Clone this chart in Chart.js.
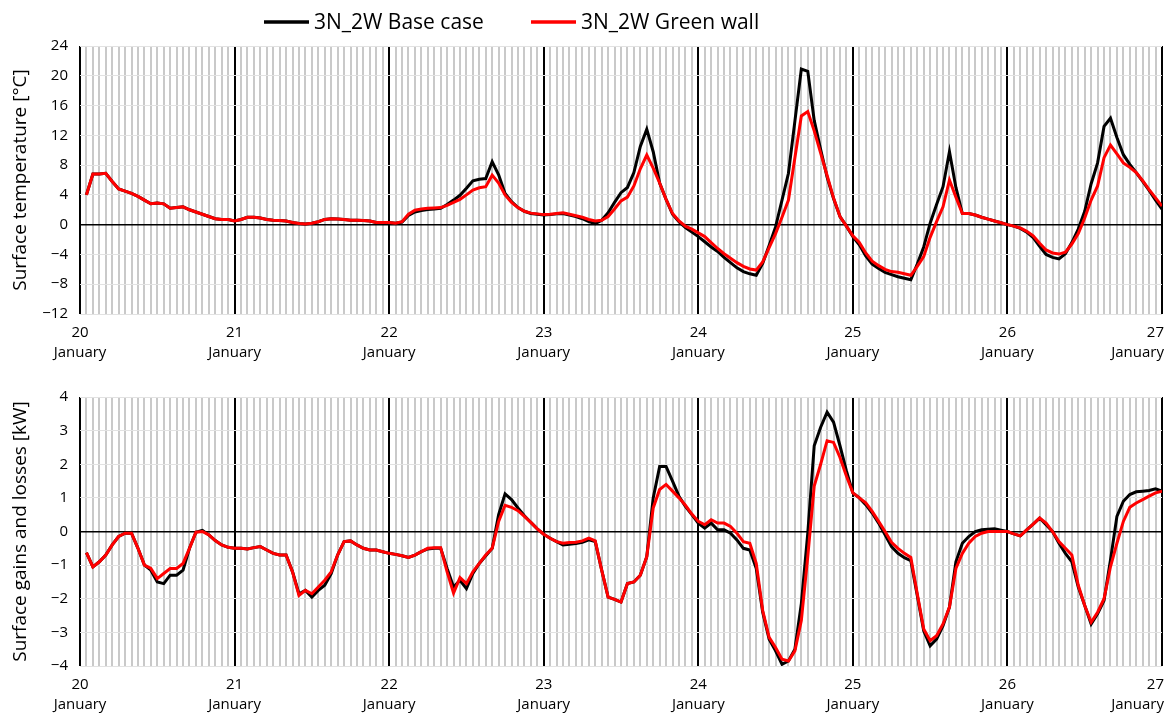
<!DOCTYPE html>
<html>
<head>
<meta charset="utf-8">
<title>3N_2W surface temperature and surface gains/losses, 20–27 January</title>
<script src="https://cdn.jsdelivr.net/npm/chart.js@4.4.1/dist/chart.umd.min.js"></script>
<style>
  html, body { margin: 0; padding: 0; background: #ffffff; }
  #wrap { position: relative; width: 1167px; height: 717px; overflow: hidden; }
  .panel { position: absolute; left: 0; width: 1167px; }
  #p1 { top: 0; height: 375px; }
  #p2 { top: 375px; height: 342px; }
</style>
</head>
<body>
<div id="wrap">
  <div class="panel" id="p1"><canvas id="c1"></canvas></div>
  <div class="panel" id="p2"><canvas id="c2"></canvas></div>
</div>
<script>
// Hourly time steps (hours after 20 January 00:00)
const hours = Array.from({ length: 168 }, (_, i) => i + 1);

// Day tick labels (one per 24 h)
const dayLabels = ['20', '21', '22', '23', '24', '25', '26', '27'];
const monthLabel = 'January';

const seriesNames = ['3N_2W Base case', '3N_2W Green wall'];

// Surface temperature [°C], one row per day
const tempBase = [
  4.0, 6.8, 6.8, 6.9, 5.8, 4.8, 4.5, 4.2, 3.8, 3.3, 2.8, 2.9, 2.8, 2.2, 2.3, 2.4, 2.0, 1.7, 1.4, 1.1, 0.8, 0.7, 0.7, 0.5,
  0.7, 1.0, 1.0, 0.9, 0.7, 0.6, 0.55, 0.5, 0.3, 0.15, 0.1, 0.2, 0.4, 0.7, 0.8, 0.75, 0.7, 0.6, 0.6, 0.55, 0.5, 0.3, 0.3, 0.3,
  0.2, 0.35, 1.25, 1.7, 1.9, 2.05, 2.1, 2.2, 2.7, 3.3, 3.95, 4.9, 5.9, 6.1, 6.2, 8.45, 6.7, 4.2, 3.1, 2.3, 1.8, 1.5, 1.4, 1.3,
  1.35, 1.45, 1.5, 1.3, 1.1, 0.8, 0.4, 0.15, 0.6, 1.6, 3.0, 4.3, 5.0, 7.0, 10.5, 12.8, 9.8, 5.6, 3.4, 1.4, 0.4, -0.4, -1.0, -1.6,
  -2.3, -3.0, -3.6, -4.4, -5.1, -5.8, -6.3, -6.6, -6.8, -5.2, -2.8, -0.3, 3.3, 6.9, 13.9, 20.9, 20.6, 14.0, 10.1, 6.4, 3.5, 1.1, -0.2, -1.6,
  -2.7, -4.2, -5.3, -5.9, -6.4, -6.7, -7.0, -7.2, -7.4, -5.3, -3.0, 0.2, 2.7, 5.1, 9.8, 5.0, 1.5, 1.5, 1.3, 1.0, 0.75, 0.5, 0.25, 0.0,
  -0.2, -0.5, -1.0, -1.75, -2.9, -4.0, -4.4, -4.6, -3.9, -2.4, -0.6, 1.8, 5.5, 8.3, 13.2, 14.3, 11.7, 9.4, 8.1, 7.0, 5.8, 4.6, 3.3, 2.1
];
const tempGreen = [
  4.0, 6.8, 6.8, 6.9, 5.8, 4.8, 4.5, 4.2, 3.8, 3.3, 2.8, 2.9, 2.8, 2.2, 2.3, 2.4, 2.0, 1.7, 1.4, 1.1, 0.8, 0.7, 0.7, 0.5,
  0.7, 1.0, 1.0, 0.9, 0.7, 0.6, 0.55, 0.5, 0.3, 0.15, 0.1, 0.2, 0.4, 0.7, 0.8, 0.75, 0.7, 0.6, 0.6, 0.55, 0.5, 0.3, 0.3, 0.3,
  0.2, 0.4, 1.4, 1.95, 2.1, 2.2, 2.25, 2.3, 2.6, 3.0, 3.4, 4.0, 4.65, 4.95, 5.1, 6.65, 5.6, 4.0, 3.0, 2.3, 1.8, 1.55, 1.45, 1.35,
  1.4, 1.5, 1.6, 1.4, 1.2, 1.0, 0.7, 0.5, 0.6, 1.1, 2.1, 3.2, 3.7, 5.2, 7.5, 9.35, 7.6, 5.6, 3.4, 1.5, 0.5, -0.2, -0.6, -1.1,
  -1.6, -2.4, -3.2, -3.9, -4.5, -5.1, -5.6, -5.95, -6.1, -5.0, -3.1, -1.2, 1.0, 3.3, 9.0, 14.6, 15.2, 12.6, 9.6, 6.6, 3.6, 1.1, -0.2, -1.5,
  -2.4, -3.8, -4.9, -5.5, -6.0, -6.3, -6.4, -6.6, -6.8, -5.6, -4.3, -1.7, 0.4, 2.4, 6.0, 3.7, 1.5, 1.5, 1.3, 1.0, 0.75, 0.5, 0.25, 0.0,
  -0.2, -0.45, -0.9, -1.5, -2.5, -3.4, -3.8, -3.95, -3.7, -2.6, -1.2, 0.9, 3.3, 5.2, 9.0, 10.7, 9.5, 8.3, 7.7, 7.0, 5.9, 4.7, 3.6, 2.5
];

// Surface gains and losses [kW], one row per day
const gainBase = [
  -0.63, -1.05, -0.9, -0.7, -0.4, -0.15, -0.05, -0.05, -0.5, -1.0, -1.15, -1.5, -1.55, -1.3, -1.3, -1.15, -0.5, -0.02, 0.03, -0.1, -0.27, -0.4, -0.47, -0.5,
  -0.5, -0.52, -0.48, -0.45, -0.55, -0.65, -0.7, -0.7, -1.2, -1.85, -1.75, -1.95, -1.75, -1.6, -1.25, -0.7, -0.3, -0.28, -0.4, -0.5, -0.55, -0.55, -0.6, -0.65,
  -0.68, -0.72, -0.77, -0.7, -0.6, -0.52, -0.5, -0.5, -1.1, -1.65, -1.45, -1.7, -1.25, -0.95, -0.72, -0.5, 0.5, 1.12, 0.95, 0.7, 0.47, 0.27, 0.08, -0.08,
  -0.2, -0.3, -0.4, -0.38, -0.36, -0.32, -0.25, -0.3, -1.15, -1.95, -2.02, -2.1, -1.55, -1.5, -1.3, -0.75, 1.0, 1.93, 1.93, 1.5, 1.05, 0.75, 0.5, 0.25,
  0.1, 0.25, 0.05, 0.05, -0.05, -0.25, -0.5, -0.55, -1.1, -2.4, -3.2, -3.55, -3.95, -3.85, -3.5, -2.15, -0.05, 2.55, 3.1, 3.55, 3.25, 2.55, 1.8, 1.15,
  1.0, 0.8, 0.55, 0.25, -0.1, -0.45, -0.65, -0.78, -0.87, -1.9, -2.95, -3.4, -3.2, -2.8, -2.25, -0.9, -0.35, -0.15, 0.0, 0.05, 0.07, 0.08, 0.04, 0.0,
  -0.07, -0.13, 0.05, 0.22, 0.4, 0.2, 0.0, -0.35, -0.65, -0.9, -1.65, -2.2, -2.75, -2.45, -2.05, -0.85, 0.45, 0.9, 1.1, 1.18, 1.2, 1.22, 1.27, 1.2
];
const gainGreen = [
  -0.63, -1.05, -0.9, -0.7, -0.4, -0.15, -0.05, -0.05, -0.5, -1.0, -1.1, -1.4, -1.25, -1.1, -1.1, -0.95, -0.5, -0.02, 0.0, -0.1, -0.27, -0.4, -0.47, -0.5,
  -0.5, -0.52, -0.48, -0.45, -0.55, -0.65, -0.7, -0.7, -1.2, -1.9, -1.75, -1.85, -1.65, -1.45, -1.2, -0.7, -0.3, -0.28, -0.4, -0.5, -0.55, -0.55, -0.6, -0.65,
  -0.68, -0.72, -0.77, -0.7, -0.6, -0.5, -0.48, -0.48, -1.2, -1.83, -1.37, -1.55, -1.2, -0.95, -0.7, -0.5, 0.3, 0.78, 0.72, 0.62, 0.45, 0.27, 0.08, -0.08,
  -0.2, -0.3, -0.35, -0.33, -0.32, -0.28, -0.2, -0.28, -1.15, -1.95, -2.02, -2.1, -1.55, -1.5, -1.3, -0.75, 0.7, 1.25, 1.4, 1.2, 1.0, 0.78, 0.52, 0.3,
  0.2, 0.35, 0.25, 0.25, 0.15, -0.05, -0.3, -0.35, -0.95, -2.35, -3.15, -3.45, -3.8, -3.85, -3.55, -2.65, -0.75, 1.35, 2.0, 2.7, 2.65, 2.2, 1.65, 1.15,
  1.0, 0.85, 0.6, 0.3, 0.0, -0.32, -0.5, -0.65, -0.77, -1.85, -2.9, -3.25, -3.1, -2.75, -2.25, -1.1, -0.65, -0.35, -0.15, -0.05, 0.0, 0.0, 0.0, 0.0,
  -0.07, -0.13, 0.05, 0.22, 0.4, 0.25, 0.0, -0.3, -0.5, -0.7, -1.6, -2.2, -2.7, -2.4, -2.0, -1.05, -0.35, 0.3, 0.72, 0.85, 0.95, 1.05, 1.15, 1.2
];

// Y-axis ticks
const tempTicks = { min: -12, max: 24, step: 4 };
const gainTicks = { min: -4, max: 4, step: 1 };

const FONT = '"Open Sans", "DejaVu Sans", sans-serif';
const BLACK = '#000000';
const RED = '#ff0000';

Chart.defaults.font.family = FONT;
Chart.defaults.color = '#000000';

const minusSign = v => (v < 0 ? '\u2212' + Math.abs(v) : String(v));

// Right-align the last day label so it stays inside the page
const edgeLabelPlugin = {
  id: 'edgeLabel',
  beforeDraw(chart) {
    const sc = chart.scales.x;
    const items = sc.getLabelItems();
    for (let i = items.length - 1; i >= 0; i--) {
      if (Array.isArray(items[i].label)) {
        items[i].options.textAlign = 'right';
        items[i].options.translation[0] = chart.width - 3;
        break;
      }
    }
  }
};

// Legend drawn above the upper panel
const lineLegendPlugin = {
  id: 'lineLegend',
  afterDraw(chart, args, opts) {
    const ctx = chart.ctx;
    ctx.save();
    ctx.font = opts.font;
    ctx.textBaseline = 'middle';
    ctx.textAlign = 'left';
    opts.items.forEach(it => {
      const ds = chart.data.datasets[it.index];
      ctx.strokeStyle = ds.borderColor;
      ctx.lineWidth = 3.5;
      ctx.beginPath();
      ctx.moveTo(it.x, opts.y);
      ctx.lineTo(it.x + opts.len, opts.y);
      ctx.stroke();
      ctx.fillStyle = '#000000';
      ctx.fillText(ds.label, it.x + opts.len + 5, opts.y + 1);
    });
    ctx.restore();
  }
};

function makeOptions(yCfg, yTitle, padTop, xHeight, legendOpts) {
  return {
    responsive: true,
    maintainAspectRatio: false,
    animation: false,
    devicePixelRatio: 1,
    layout: { padding: { top: padTop, right: 5, left: 0, bottom: 0 } },
    elements: {
      point: { radius: 0, hoverRadius: 0 },
      line: { borderWidth: 3, tension: 0, borderJoinStyle: 'miter', borderCapStyle: 'butt' }
    },
    plugins: {
      legend: { display: false },
      tooltip: { enabled: false },
      lineLegend: legendOpts || { items: [] }
    },
    scales: {
      x: {
        type: 'linear',
        min: 0,
        max: 168,
        border: { display: false },
        grid: {
          drawTicks: false,
          color: c => (c.tick && c.tick.value % 24 === 0 ? '#000000' : '#c9c9c9'),
          lineWidth: 2
        },
        ticks: {
          stepSize: 1,
          maxTicksLimit: 200,
          autoSkip: false,
          maxRotation: 0,
          minRotation: 0,
          padding: 9,
          font: { size: 15, lineHeight: 1.33 },
          color: '#000000',
          callback: v => (v % 24 === 0 ? [dayLabels[v / 24], monthLabel] : '')
        },
        afterFit: s => { s.height = xHeight; s.paddingLeft = 0; s.paddingRight = 0; }
      },
      y: {
        min: yCfg.min,
        max: yCfg.max,
        border: { display: false },
        grid: {
          drawTicks: false,
          color: c => (c.tick && c.tick.value === 0 ? '#000000' : '#e2e2e2'),
          lineWidth: c => (c.tick && c.tick.value === 0 ? 1.6 : 1)
        },
        ticks: {
          stepSize: yCfg.step,
          padding: 12,
          font: { size: 15 },
          color: '#000000',
          callback: v => minusSign(v)
        },
        title: {
          display: true,
          text: yTitle,
          font: { size: 19 },
          color: '#000000',
          padding: { top: 9, bottom: 0 }
        },
        afterFit: s => { s.width = 80; }
      }
    }
  };
}

function build() {
  new Chart(document.getElementById('c1'), {
    type: 'line',
    data: {
      labels: hours,
      datasets: [
        { label: seriesNames[0], data: tempBase, borderColor: BLACK, backgroundColor: BLACK, order: 2 },
        { label: seriesNames[1], data: tempGreen, borderColor: RED, backgroundColor: RED, order: 1 }
      ]
    },
    options: makeOptions(tempTicks, 'Surface temperature [°C]', 46, 61, {
      font: '21px ' + FONT,
      y: 22,
      len: 45,
      items: [{ index: 0, x: 264 }, { index: 1, x: 531 }]
    }),
    plugins: [edgeLabelPlugin, lineLegendPlugin]
  });

  new Chart(document.getElementById('c2'), {
    type: 'line',
    data: {
      labels: hours,
      datasets: [
        { label: seriesNames[0], data: gainBase, borderColor: BLACK, backgroundColor: BLACK, order: 2 },
        { label: seriesNames[1], data: gainGreen, borderColor: RED, backgroundColor: RED, order: 1 }
      ]
    },
    options: makeOptions(gainTicks, 'Surface gains and losses [kW]', 22, 51, null),
    plugins: [edgeLabelPlugin]
  });
}

if (document.fonts && document.fonts.load) {
  Promise.all([
    document.fonts.load('15px "Open Sans"'),
    document.fonts.load('21px "Open Sans"')
  ]).then(build, build);
} else {
  build();
}
</script>
</body>
</html>
